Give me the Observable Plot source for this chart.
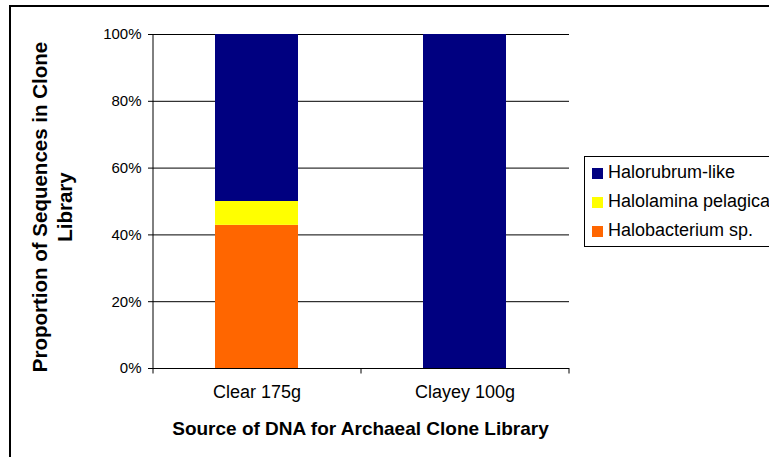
<!DOCTYPE html>
<html><head><meta charset="utf-8">
<script src="https://cdn.jsdelivr.net/npm/d3@7"></script>
<script src="https://cdn.jsdelivr.net/npm/@observablehq/plot@0.6"></script>
<style>body{margin:0;background:#fff} svg{display:block}</style>
</head><body><div id="chart"></div>
<script>
const sources = ["Clear 175g", "Clayey 100g"];
const species = ["Halobacterium sp.", "Halolamina pelagica", "Halorubrum-like"]; // stacked bottom to top
const colors = ["#FF6600", "#FFFF00", "#000080"];
const clearValues = [0.4286, 0.0714, 0.5];
const clayeyValues = [0, 0, 1];
const yTicks = [0, 0.2, 0.4, 0.6, 0.8, 1];
const legendOrder = ["Halorubrum-like", "Halolamina pelagica", "Halobacterium sp."];
const xTitle = "Source of DNA for Archaeal Clone Library";
const yTitleLines = ["Proportion of Sequences in Clone", "Library"];

const data = [];
species.forEach((s, i) => {
  data.push({source: sources[0], species: s, value: clearValues[i]});
  data.push({source: sources[1], species: s, value: clayeyValues[i]});
});

const FONT = "Arial, 'Liberation Sans', sans-serif";

const plot = Plot.plot({
  width: 769, height: 457,
  marginLeft: 153, marginRight: 200, marginTop: 34, marginBottom: 89,
  style: {fontFamily: FONT, background: "#fff", color: "#000"},
  x: {domain: sources, paddingInner: 0.6, paddingOuter: 0.3, label: null},
  y: {domain: [0, 1], label: null},
  color: {domain: species, range: colors},
  marks: [
    Plot.ruleY(yTicks.slice(1), {stroke: "#000", strokeWidth: 1}),
    Plot.barY(data, {x: "source", y: "value", fill: "species"}),
    Plot.ruleY([0], {stroke: "#000"}),
    Plot.axisY({ticks: yTicks, tickFormat: d3.format(".0%"), tickSize: 5, tickPadding: 7, fontSize: 15, label: null}),
    Plot.axisX({tickSize: 0, tickPadding: 17, fontSize: 18, label: null})
  ]
});

const svg = d3.select(plot);
const xs = plot.scale("x"), ys = plot.scale("y"), cs = plot.scale("color");
const step = xs.step, bw = xs.bandwidth;
const y0 = ys.apply(0), y1 = ys.apply(1);
const bounds = sources.map(s => xs.apply(s) - (step - bw) / 2);
bounds.push(bounds[bounds.length - 1] + step);

const g = svg.append("g").attr("stroke", "#000").attr("fill", "none");
g.append("line").attr("x1", bounds[0] + 0.5).attr("x2", bounds[0] + 0.5).attr("y1", y1).attr("y2", y0 + 0.5);
bounds.forEach(b => g.append("line").attr("x1", b + 0.5).attr("x2", b + 0.5).attr("y1", y0).attr("y2", y0 + 5.5));

// outer chart border
svg.append("rect").attr("x", 10).attr("y", 6).attr("width", 900).attr("height", 600)
  .attr("fill", "none").attr("stroke", "#000").attr("stroke-width", 2);

// axis titles
svg.append("text").attr("x", (bounds[0] + bounds[bounds.length - 1]) / 2).attr("y", 435)
  .attr("text-anchor", "middle").attr("font-family", FONT).attr("font-size", 19).attr("font-weight", "bold")
  .text(xTitle);
const yc = (y0 + y1) / 2 + 6;
[47, 72].forEach((bx, i) => {
  svg.append("text").attr("transform", `translate(${bx},${yc}) rotate(-90)`)
    .attr("text-anchor", "middle").attr("font-family", FONT).attr("font-size", 20.5).attr("font-weight", "bold")
    .text(yTitleLines[i]);
});

// legend
const lg = svg.append("g").attr("font-family", FONT).attr("font-size", 18).attr("text-anchor", "start");
lg.append("rect").attr("x", 584.5).attr("y", 156.5).attr("width", 300).attr("height", 90)
  .attr("fill", "#fff").attr("stroke", "#000");
legendOrder.forEach((s, i) => {
  const base = 178 + i * 29;
  lg.append("rect").attr("x", 592).attr("y", base - 10).attr("width", 11).attr("height", 11).attr("fill", cs.apply(s));
  lg.append("text").attr("x", 608).attr("y", base).attr("fill", "#000").text(s);
});

document.getElementById("chart").appendChild(plot);
</script>
</body></html>
